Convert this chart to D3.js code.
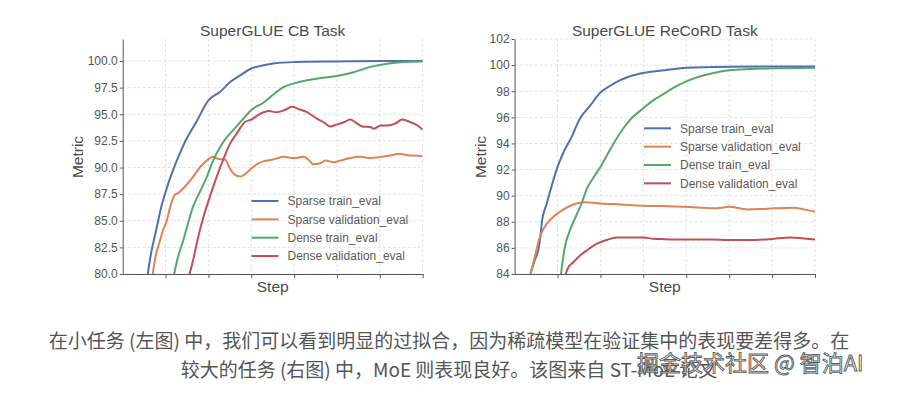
<!DOCTYPE html>
<html lang="zh">
  <head>
    <meta charset="UTF-8" />
    <title>SuperGLUE CB / ReCoRD</title>
    <script src="https://d3js.org/d3.v7.min.js"></script>
    <style>
      body {
        margin: 0;
        background-color: #ffffff;
      }
      svg {
        display: block;
        font-family: "Liberation Sans", Arial, sans-serif;
      }
      .grid line {
        stroke: #dcdcdc;
        stroke-dasharray: 3, 2;
        stroke-width: 0.8;
      }
      .axis path,
      .axis line {
        stroke: #555;
      }
      .axis text {
        fill: #555;
        font-size: 12px;
      }
      .series {
        fill: none;
        stroke-width: 2;
        stroke-linejoin: round;
      }
    </style>
  </head>
  <body>
    <div id="chart"></div>
    <script>
      // series names + colours (seaborn "deep")
      const seriesNames = ["Sparse train_eval", "Sparse validation_eval", "Dense train_eval", "Dense validation_eval"];
      const seriesColors = ["#4c72b0", "#dd8452", "#55a868", "#c44e52"];

      // x ticks (no labels in the picture)
      const stepTicks = [1, 2, 3, 4, 5, 6, 7];

      // left panel: SuperGLUE CB, [step, metric]
      const cbTicks = [80, 82.5, 85, 87.5, 90, 92.5, 95, 97.5, 100];
      const cbSparseTrain = [[0.585,80],[0.66,81.9],[0.78,84.1],[0.9,86.3],[1.0,87.7],[1.17,89.7],[1.33,91.3],[1.49,92.7],[1.72,94.3],[2.0,96.3],[2.27,97.1],[2.5,98.0],[2.74,98.65],[3.0,99.3],[3.29,99.6],[3.56,99.8],[4.0,99.9],[5.0,99.96],[6.0,100],[7.0,100]];
      const cbSparseVal = [[0.70,80],[0.78,81.9],[0.86,83.0],[0.94,84.1],[1.02,84.9],[1.09,86.0],[1.21,87.4],[1.29,87.6],[1.45,88.2],[1.6,88.9],[1.8,90.0],[1.96,90.65],[2.11,91.0],[2.23,90.8],[2.39,90.75],[2.5,89.9],[2.62,89.3],[2.74,89.15],[2.86,89.4],[3.0,89.9],[3.13,90.3],[3.29,90.6],[3.44,90.7],[3.56,90.8],[3.75,91.0],[4.0,90.9],[4.22,91.0],[4.34,90.7],[4.45,90.3],[4.61,90.4],[4.73,90.65],[4.92,90.5],[5.08,90.65],[5.31,90.9],[5.55,91.0],[5.78,90.9],[6.02,91.0],[6.33,91.2],[6.45,91.3],[6.64,91.15],[6.88,91.1],[7.0,91.05]];
      const cbDenseTrain = [[1.2,80],[1.29,81.6],[1.41,83.1],[1.52,84.7],[1.64,86.3],[1.8,87.7],[1.96,89.1],[2.11,90.65],[2.27,91.9],[2.43,92.85],[2.62,93.7],[2.82,94.6],[3.0,95.4],[3.29,96.1],[3.44,96.6],[3.56,97.0],[3.75,97.55],[4.0,97.9],[4.3,98.2],[4.61,98.4],[5.0,98.6],[5.39,98.95],[5.78,99.45],[6.17,99.75],[6.56,99.9],[7.0,99.95]];
      const cbDenseVal = [[1.56,80],[1.64,81.25],[1.76,83.45],[1.88,85.3],[2.03,87.2],[2.19,89.1],[2.35,90.8],[2.5,92.2],[2.66,93.2],[2.86,94.3],[3.0,94.5],[3.21,95.05],[3.41,95.3],[3.59,95.2],[3.75,95.35],[3.95,95.7],[4.1,95.5],[4.3,95.2],[4.53,94.6],[4.69,94.25],[4.84,93.85],[5.0,94.05],[5.16,94.25],[5.31,94.5],[5.43,94.25],[5.59,93.85],[5.78,93.8],[5.86,93.65],[6.02,93.95],[6.17,93.95],[6.37,94.15],[6.52,94.5],[6.72,94.25],[6.88,93.95],[7.0,93.55]];

      // right panel: SuperGLUE ReCoRD
      const recordTicks = [84, 86, 88, 90, 92, 94, 96, 98, 100, 102];
      const recSparseTrain = [[0.37,84],[0.47,85.05],[0.55,85.8],[0.6,86.85],[0.64,88.1],[0.74,89.3],[0.86,90.7],[1.0,92.2],[1.13,93.25],[1.33,94.5],[1.52,95.9],[1.75,96.85],[2.0,97.9],[2.22,98.4],[2.46,98.85],[2.69,99.15],[3.0,99.4],[3.5,99.6],[4.0,99.8],[5.0,99.88],[6.0,99.9],[7.0,99.9]];
      const recSparseVal = [[0.37,84],[0.47,85.3],[0.59,86.85],[0.70,87.6],[0.86,88.25],[1.05,88.75],[1.25,89.15],[1.44,89.4],[1.68,89.5],[2.0,89.4],[2.46,89.33],[3.0,89.23],[3.5,89.2],[4.0,89.15],[4.33,89.08],[4.72,89.03],[5.0,89.15],[5.42,88.95],[5.73,88.97],[6.04,89.03],[6.5,89.08],[6.74,88.95],[7.0,88.77]];
      const recDenseTrain = [[1.08,84],[1.17,86.05],[1.29,87.35],[1.44,88.5],[1.56,89.4],[1.68,90.5],[1.83,91.35],[2.0,92.2],[2.22,93.5],[2.46,94.8],[2.69,95.8],[3.0,96.7],[3.23,97.3],[3.5,97.85],[3.7,98.25],[4.0,98.75],[4.33,99.15],[4.64,99.4],[5.0,99.6],[5.5,99.7],[6.0,99.75],[7.0,99.8]];
      const recDenseVal = [[1.19,84],[1.25,84.5],[1.37,84.9],[1.52,85.4],[1.68,85.8],[1.91,86.3],[2.14,86.6],[2.38,86.8],[2.69,86.8],[3.0,86.8],[3.23,86.7],[3.5,86.67],[4.0,86.64],[4.56,86.64],[5.0,86.6],[5.5,86.6],[5.97,86.67],[6.43,86.8],[6.74,86.72],[7.0,86.64]];

      const captionLines = [
        "在小任务 (左图) 中，我们可以看到明显的过拟合，因为稀疏模型在验证集中的表现要差得多。在",
        "较大的任务 (右图) 中，MoE 则表现良好。该图来自 ST-MoE 论文",
      ];
      const watermark = "掘金技术社区 @ 智泊AI";

      const W = 907,
        H = 393;
      const svg = d3.select("#chart").append("svg").attr("width", W).attr("height", H);

      function drawPanel(cfg) {
        const x = d3.scaleLinear().domain([0, 7]).range([cfg.left, cfg.right]);
        const y = d3.scaleLinear().domain(cfg.yDomain).range([274, 39]);
        const g = svg.append("g");

        // grid
        const grid = g.append("g").attr("class", "grid");
        grid.selectAll(".h").data(cfg.yTicks).join("line")
          .attr("x1", cfg.left).attr("x2", cfg.right)
          .attr("y1", (d) => y(d)).attr("y2", (d) => y(d));
        grid.selectAll(".v").data(stepTicks).join("line")
          .attr("x1", (d) => x(d)).attr("x2", (d) => x(d))
          .attr("y1", 39).attr("y2", 274);

        // lines
        const clipId = "clip" + cfg.left;
        g.append("clipPath").attr("id", clipId).append("rect")
          .attr("x", cfg.left).attr("y", 39).attr("width", cfg.right - cfg.left).attr("height", 235);
        const line = d3.line().x((d) => x(d[0])).y((d) => y(d[1])).curve(d3.curveMonotoneX);
        g.append("g").attr("clip-path", `url(#${clipId})`)
          .selectAll("path").data(cfg.series).join("path")
          .attr("class", "series")
          .attr("stroke", (d, i) => seriesColors[i])
          .attr("d", line);

        // axes
        g.append("g").attr("class", "axis")
          .attr("transform", `translate(${cfg.left},0)`)
          .call(d3.axisLeft(y).tickValues(cfg.yTicks).tickFormat(cfg.fmt).tickSize(3).tickSizeOuter(0).tickPadding(2));
        g.append("g").attr("class", "axis")
          .attr("transform", "translate(0,274)")
          .call(d3.axisBottom(x).tickValues(stepTicks).tickFormat("").tickSize(4).tickSizeOuter(0));

        // labels
        g.append("text").attr("x", (cfg.left + cfg.right) / 2).attr("y", 36)
          .attr("text-anchor", "middle").attr("font-size", 15.5).attr("fill", "#4a4a4a").text(cfg.title);
        g.append("text").attr("x", (cfg.left + cfg.right) / 2).attr("y", 292)
          .attr("text-anchor", "middle").attr("font-size", 15.5).attr("fill", "#4a4a4a").text("Step");
        g.append("text").attr("transform", `translate(${cfg.ylabX},157) rotate(-90)`)
          .attr("text-anchor", "middle").attr("font-size", 15.5).attr("fill", "#4a4a4a").text("Metric");

        // legend
        const leg = g.append("g");
        seriesNames.forEach((name, i) => {
          const ly = cfg.legY + i * 18.35;
          leg.append("line").attr("x1", cfg.legX).attr("x2", cfg.legX + 27)
            .attr("y1", ly).attr("y2", ly).attr("stroke", seriesColors[i]).attr("stroke-width", 2);
          leg.append("text").attr("x", cfg.legX + 36).attr("y", ly + 4.2)
            .attr("font-size", 12).attr("fill", "#5c5c5c").text(name);
        });
      }

      drawPanel({
        left: 122.7, right: 422.7, yDomain: [80, 102.07], yTicks: cbTicks, fmt: d3.format(".1f"),
        title: "SuperGLUE CB Task", ylabX: 83, legX: 251.5, legY: 201,
        series: [cbSparseTrain, cbSparseVal, cbDenseTrain, cbDenseVal],
      });
      drawPanel({
        left: 514.6, right: 815, yDomain: [84, 102], yTicks: recordTicks, fmt: d3.format("d"),
        title: "SuperGLUE ReCoRD Task", ylabX: 486, legX: 644, legY: 128.3,
        series: [recSparseTrain, recSparseVal, recDenseTrain, recDenseVal],
      });

      // caption
      const cap = svg.append("g").attr("font-family", "'Noto Sans CJK SC', sans-serif").attr("fill", "#555");
      const c1 = cap.append("text").attr("x", 449).attr("y", 348).attr("text-anchor", "middle")
        .attr("font-size", 19).text(captionLines[0]);
      const natural = c1.node().getComputedTextLength();
      const spacing = Math.max(0, (798 - natural) / captionLines[0].length);
      c1.attr("letter-spacing", spacing);
      cap.append("text").attr("x", 449).attr("y", 377).attr("text-anchor", "middle")
        .attr("font-size", 19).attr("letter-spacing", spacing).text(captionLines[1]);

      // watermark
      svg.append("text").attr("x", 637).attr("y", 371)
        .attr("font-family", "'Noto Sans CJK SC', sans-serif").attr("font-size", 22)
        .attr("fill", "#ffffff").attr("stroke", "#5a5a5a").attr("stroke-width", 0.9)
        .text(watermark);
    </script>
  </body>
</html>
